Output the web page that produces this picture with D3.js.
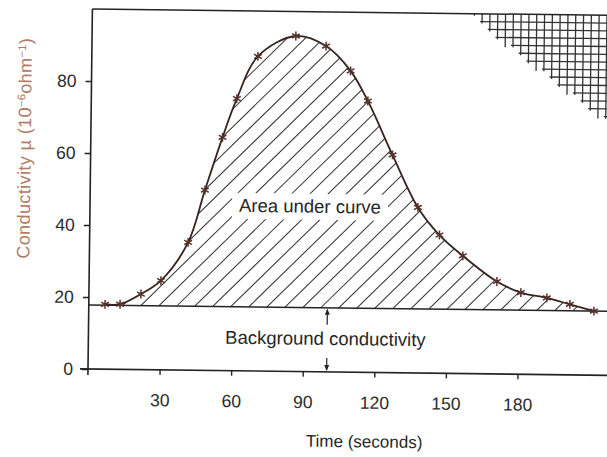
<!DOCTYPE html>
<meta charset="utf-8">
<style>
  body { margin: 0; background: #fff; }
  text { font-family: "Liberation Sans", Arial, sans-serif; }
</style>

<div id="my_dataviz"></div>

<body>
  <script src="https://d3js.org/d3.v7.min.js"></script>
  <script>
    // readings (time in seconds, conductivity in 10^-6 ohm^-1)
    var time = [6.8, 13.1, 21.8, 30.1, 41.3, 48.1, 55.2, 61.0, 69.6, 85.4, 98.1,
      108.5, 115.9, 126.5, 137.4, 146.6, 156.5, 170.9, 181.0, 191.9, 201.6, 211.7];
    var conductivity = [18.0, 18.1, 21.0, 24.8, 35.5, 50.1, 64.8, 75.6, 87.4, 93.2, 90.5,
      83.7, 75.4, 60.5, 46.0, 38.4, 32.7, 25.7, 22.7, 21.3, 19.6, 17.8];
    var backgroundLevel = 17.8;
    var arrowTime = 100;
    var xTickValues = [30, 60, 90, 120, 150, 180];
    var yTickValues = [0, 20, 40, 60, 80];

    var data = time.map(function (t, i) { return { t: t, v: conductivity[i] }; });

    // set the dimensions and margins of the graph
    var margin = { top: 9, left: 88 },
      width = 519,
      height = 360;

    var root = d3.select("#my_dataviz")
      .append("svg")
      .attr("width", 607)
      .attr("height", 457);

    // the scanned page is a little tilted
    var svg = root.append("g")
      .attr("transform", "translate(" + margin.left + "," + margin.top + ") rotate(0.7,0," + height + ")");

    var x = d3.scaleLinear().domain([0, 217.5]).range([0, width]);
    var y = d3.scaleLinear().domain([0, 100]).range([height, 0]);

    var ink = "#232323";
    var yb = y(backgroundLevel);

    var area = d3.area()
      .x(function (d) { return x(d.t); })
      .y0(yb)
      .y1(function (d) { return y(d.v); })
      .curve(d3.curveCatmullRom.alpha(0.5));

    var line = d3.line()
      .x(function (d) { return x(d.t); })
      .y(function (d) { return y(d.v); })
      .curve(d3.curveCatmullRom.alpha(0.5));

    var defs = root.append("defs");
    defs.append("clipPath").attr("id", "area-clip")
      .append("path").attr("d", area(data));

    // hatching under the curve
    var hatch = svg.append("g").attr("clip-path", "url(#area-clip)");
    d3.range(52 - 18 * 14, width + 20, 18).forEach(function (xb) {
      hatch.append("line")
        .attr("x1", xb).attr("y1", yb)
        .attr("x2", xb + yb).attr("y2", 0)
        .attr("stroke", "#2e2e2e")
        .attr("stroke-width", 1);
    });

    // crosshatched corner of the page
    var grid = svg.append("g").attr("stroke", "#333").attr("stroke-width", 1.3);
    var g0 = 382, gs = 7.8, slope = 0.755;
    d3.range(g0, 540, gs).forEach(function (gx) {
      var bottom = Math.ceil((gx - g0) * slope / gs) * gs + 2;
      grid.append("line").attr("x1", gx).attr("x2", gx).attr("y1", 0).attr("y2", bottom);
    });
    d3.range(gs, 125, gs).forEach(function (gy) {
      var left = g0 + Math.floor(gy / slope / gs) * gs - 2;
      grid.append("line").attr("x1", left).attr("x2", 540).attr("y1", gy).attr("y2", gy);
    });

    // frame top
    svg.append("line")
      .attr("x1", 0).attr("x2", 540).attr("y1", 0).attr("y2", 0)
      .attr("stroke", ink).attr("stroke-width", 1.5);

    // background level
    svg.append("line")
      .attr("x1", 0).attr("x2", 540).attr("y1", yb).attr("y2", yb)
      .attr("stroke", ink).attr("stroke-width", 1.5);

    // curve
    svg.append("path")
      .attr("d", line(data))
      .attr("fill", "none")
      .attr("stroke", "#35241f")
      .attr("stroke-width", 1.8);

    // markers
    var symbol = d3.symbol().type(d3.symbolAsterisk || d3.symbolCross).size(55);
    svg.append("g")
      .selectAll("path")
      .data(data)
      .enter()
      .append("path")
      .attr("d", symbol)
      .attr("transform", function (d) { return "translate(" + x(d.t) + "," + y(d.v) + ")"; })
      .attr("fill", "none")
      .attr("stroke", "#55302a")
      .attr("stroke-width", 1.5);

    // Add X axis
    svg.append("line")
      .attr("x1", -8).attr("x2", 540).attr("y1", height).attr("y2", height)
      .attr("stroke", ink).attr("stroke-width", 1.6);
    var xAxis = svg.append("g")
      .attr("transform", "translate(0," + height + ")")
      .call(d3.axisBottom(x).tickValues(xTickValues).tickSize(5).tickPadding(19));
    xAxis.select(".domain").remove();

    // Add Y axis
    svg.append("line")
      .attr("x1", 0).attr("x2", 0).attr("y1", 0).attr("y2", height + 6)
      .attr("stroke", ink).attr("stroke-width", 1.6);
    var yAxis = svg.append("g")
      .call(d3.axisLeft(y).tickValues(yTickValues).tickSize(6).tickPadding(9));
    yAxis.select(".domain").remove();

    [xAxis, yAxis].forEach(function (a) {
      a.attr("font-family", "Liberation Sans, Arial, sans-serif").attr("font-size", 17.5);
      a.selectAll("line").attr("stroke", ink).attr("stroke-width", 1.4);
      a.selectAll("text").attr("fill", "#2b2b2b");
    });

    // arrows to the background level
    var ax = x(arrowTime);
    svg.append("line")
      .attr("x1", ax).attr("x2", ax).attr("y1", yb + 2).attr("y2", yb + 17)
      .attr("stroke", ink).attr("stroke-width", 1.2);
    svg.append("path")
      .attr("d", "M" + ax + "," + (yb + 1) + "l-2.5,6h5z")
      .attr("fill", ink);
    svg.append("line")
      .attr("x1", ax).attr("x2", ax).attr("y1", height - 14).attr("y2", height - 2)
      .attr("stroke", ink).attr("stroke-width", 1.2);
    svg.append("path")
      .attr("d", "M" + ax + "," + (height - 1) + "l-2.5,-6h5z")
      .attr("fill", ink);

    // labels
    var areaLabel = svg.append("g");
    areaLabel.append("rect")
      .attr("x", 220 - 78).attr("y", 201 - 19)
      .attr("width", 156).attr("height", 26)
      .attr("fill", "#fff");
    areaLabel.append("text")
      .attr("x", 220).attr("y", 201)
      .attr("text-anchor", "middle")
      .attr("font-size", 18.5)
      .attr("fill", "#262626")
      .text("Area under curve");

    svg.append("text")
      .attr("x", 237).attr("y", 333)
      .attr("text-anchor", "middle")
      .attr("font-size", 18.5)
      .attr("fill", "#262626")
      .text("Background conductivity");

    svg.append("text")
      .attr("x", 277).attr("y", 435)
      .attr("text-anchor", "middle")
      .attr("font-size", 17)
      .attr("fill", "#262626")
      .text("Time (seconds)");

    var yl = svg.append("text")
      .attr("transform", "translate(-60,140) rotate(-90)")
      .attr("text-anchor", "middle")
      .attr("font-size", 18)
      .attr("letter-spacing", 0.4)
      .attr("fill", "#b07a66");
    yl.append("tspan").text("Conductivity µ (10");
    yl.append("tspan").attr("font-size", 11).attr("baseline-shift", "super").text("−6");
    yl.append("tspan").text("ohm");
    yl.append("tspan").attr("font-size", 11).attr("baseline-shift", "super").text("−1");
    yl.append("tspan").text(")");
  </script>
</body>
